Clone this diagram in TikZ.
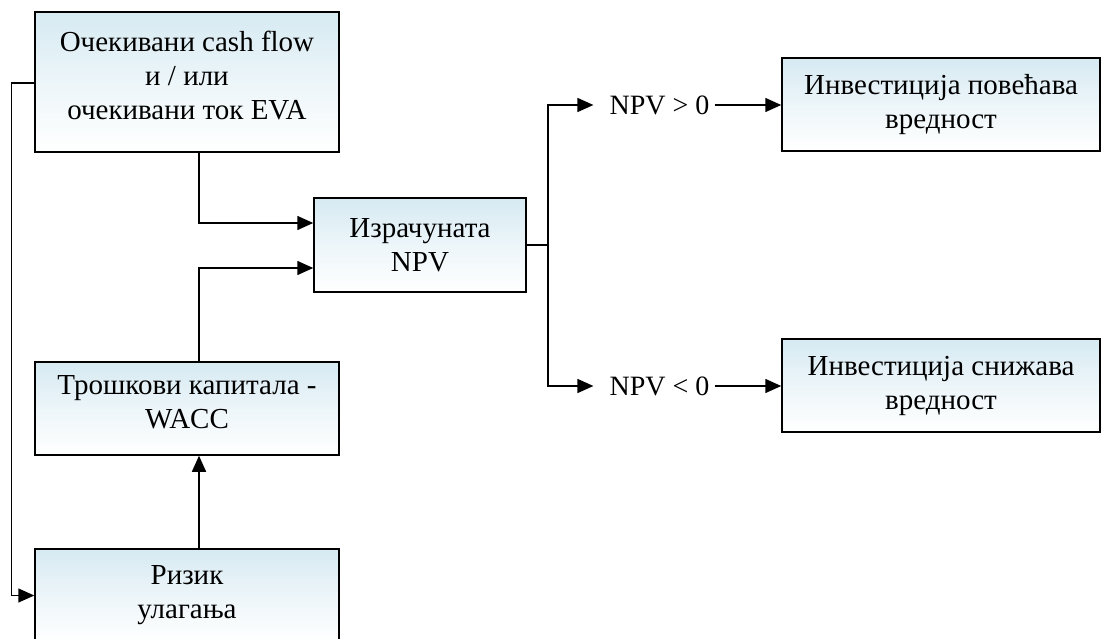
\documentclass[tikz,border=0pt]{standalone}
\usepackage{fontspec}
\setmainfont{Liberation Serif}
\usetikzlibrary{arrows.meta,calc}

\definecolor{boxtop}{RGB}{214,234,242}

% invisible strut that lifts a text block by half its depth
\newcommand{\liftdepth}[1]{\rule[-#1]{0pt}{#1}}

\tikzset{
  box/.style={draw=black, line width=1.5pt, top color=boxtop, bottom color=white,
    middle color={boxtop!45!white}, shading angle=0,
    align=center, inner sep=0pt, font=\fontsize{29}{34}\selectfont},
  flow/.style={draw=black, line width=1.5pt, -{Triangle[length=16pt,width=14pt]}},
  link/.style={draw=black, line width=1.5pt},
  cond/.style={inner xsep=5pt, inner ysep=0pt, font=\fontsize{28}{34}\selectfont}
}

\begin{document}
\begin{tikzpicture}[x=1pt, y=-1pt]
  \useasboundingbox (0,0) rectangle (1102,639);

  % left column
  \node[box, minimum width=304pt, minimum height=140pt] (cash) at (187,82)
    {Очекивани cash flow\\и / или\\очекивани ток EVA\liftdepth{14pt}};
  \node[box, minimum width=304pt, minimum height=93pt] (wacc) at (187,408.5)
    {Трошкови капитала -\\WACC\liftdepth{12pt}};
  \node[box, minimum width=304pt, minimum height=93pt] (risk) at (187,595.5)
    {Ризик\\улагања};

  % middle
  \node[box, minimum width=212pt, minimum height=94pt] (npv) at (420,245)
    {Израчуната\\NPV};

  % right column
  \node[box, minimum width=318pt, minimum height=93pt] (up) at (941,104.5)
    {Инвестиција повећава\\вредност};
  \node[box, minimum width=318pt, minimum height=93pt] (down) at (941,385.5)
    {Инвестиција снижава\\вредност};

  % decision labels
  \node[cond] (gt) at (659.5,105) {NPV > 0};
  \node[cond] (lt) at (659.5,386) {NPV < 0};

  \coordinate (split) at (548,245);

  % inputs to the NPV calculation
  \draw[flow] ([xshift=12pt]cash.south) |- ([yshift=22pt]npv.west);
  \draw[flow] ([xshift=12pt]wacc.north) |- ([yshift=-23pt]npv.west);
  \draw[flow] ([xshift=12pt]risk.north) -- ([xshift=12pt]wacc.south);
  \draw[flow] ([yshift=-1pt]cash.west) -- ++(-23,0) |- (risk.west);

  % branching on the sign of NPV
  \draw[link] (npv.east) -- (split);
  \draw[flow, shorten >=11pt] (split) |- (gt.west);
  \draw[flow, shorten >=11pt] (split) |- (lt.west);
  \draw[flow] (gt.east) -- (gt.east -| up.west);
  \draw[flow] (lt.east) -- (lt.east -| down.west);
\end{tikzpicture}
\end{document}
